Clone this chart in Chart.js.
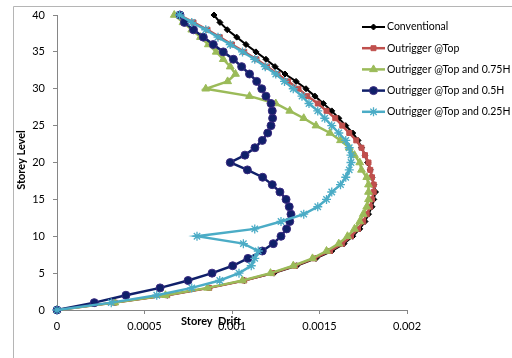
<!DOCTYPE html>
<html>
<head>
<meta charset="utf-8">
<script src="https://cdn.jsdelivr.net/npm/chart.js@4/dist/chart.umd.min.js"></script>
<style>
  html, body { margin: 0; padding: 0; background: #fff; }
  canvas { display: block; }
</style>
</head>
<body>
<main></main>
<script>
// storey levels (y) and drift per series (x)
const storeys = [0,1,2,3,4,5,6,7,8,9,10,11,12,13,14,15,16,17,18,19,20,
  21,22,23,24,25,26,27,28,29,30,31,32,33,34,35,36,37,38,39,40];

const conventional = [0,0.00033,0.00063,0.00087,0.00107,0.00124,0.00137,0.00148,0.00157,0.00164,0.00169,
  0.00173,0.00176,0.00178,0.0018,0.00181,0.00182,0.00181,0.0018,0.00179,0.001775,
  0.00176,0.00174,0.00172,0.00169,0.00165,0.00161,0.00157,0.001522,0.001474,0.001423,
  0.001366,0.001303,0.001246,0.001194,0.001137,0.00108,0.001027,0.000973,0.000931,0.000897];

const outTop = [0,0.00033,0.00063,0.00087,0.00107,0.00123,0.00136,0.00147,0.00156,0.00163,0.00168,
  0.00172,0.00175,0.00177,0.00179,0.0018,0.00181,0.00181,0.0018,0.00179,0.00178,
  0.00176,0.00174,0.00171,0.00167,0.00163,0.00159,0.00154,0.00149,0.00143,0.00138,
  0.00132,0.00126,0.0012,0.00114,0.00107,0.001,0.00093,0.00086,0.00078,0.0007];

const out075 = [0,0.00033,0.00062,0.00086,0.00106,0.00122,0.00135,0.00146,0.00154,0.00161,0.00166,
  0.0017,0.00173,0.00175,0.00177,0.00178,0.00178,0.00178,0.00177,0.00174,0.00173,
  0.0017,0.00167,0.00162,0.00156,0.00148,0.00141,0.00133,0.00125,0.0011,0.00085,
  0.000975,0.00102,0.00099,0.00095,0.00091,0.000865,0.00082,0.00077,0.00072,0.00067];

const out050 = [0,0.000213,0.000394,0.000589,0.000749,0.000886,0.001004,0.001091,0.001173,0.001236,0.00128,
  0.001312,0.00133,0.001337,0.001327,0.001309,0.001274,0.00123,0.001175,0.001088,0.00099,
  0.001074,0.001131,0.001173,0.001204,0.001223,0.001232,0.00123,0.001223,0.001194,0.00117,
  0.001141,0.0011,0.001055,0.001008,0.00095,0.000893,0.000836,0.00078,0.000728,0.000703];

const out025 = [0,0.00031,0.00057,0.00077,0.00093,0.00104,0.00111,0.00113,0.00115,0.001065,0.0008,
  0.00113,0.00128,0.00141,0.00149,0.00154,0.00157,0.00162,0.00165,0.00167,0.00168,
  0.00168,0.00167,0.00165,0.00161,0.00157,0.00153,0.00149,0.00144,0.0014,0.00135,
  0.0013,0.00125,0.00119,0.00113,0.00106,0.00099,0.00092,0.00085,0.00077,0.0007];

const seriesNames = ['Conventional','Outrigger @Top','Outrigger @Top and 0.75H',
  'Outrigger @Top and 0.5H','Outrigger @Top and 0.25H'];
const xTicks = [0, 0.0005, 0.001, 0.0015, 0.002];
const yTicks = [0, 5, 10, 15, 20, 25, 30, 35, 40];

const FONT = 'Lato, "Open Sans", sans-serif';

function pts(vals){
  return vals.map((v, i) => ({x: v, y: storeys[i]}));
}

const styles = [
  {color: '#000000', point: 'rectRot', r: 3, lw: 2, order: 5},
  {color: '#C0504D', point: 'rect', r: 3.5, lw: 2.5, order: 4},
  {color: '#9BBB59', point: 'triangle', r: 4.5, lw: 2.5, order: 3},
  {color: '#10206A', point: 'circle', r: 4, lw: 2.5, order: 2},
  {color: '#4BACC6', point: 'star', r: 4.5, lw: 2.5, order: 1}
];
const allVals = [conventional, outTop, out075, out050, out025];

const datasets = allVals.map((vals, i) => ({
  label: seriesNames[i],
  data: pts(vals),
  showLine: true,
  clip: false,
  borderColor: styles[i].color,
  backgroundColor: styles[i].color,
  borderWidth: styles[i].lw,
  pointStyle: styles[i].point,
  pointRadius: styles[i].r,
  pointBorderWidth: i == 4 ? 1.3 : 1,
  pointBorderColor: i == 3 ? '#3A2A80' : styles[i].color,
  order: styles[i].order,
  tension: 0
}));

// legend + axis titles + outer frame
const extras = {
  id: 'extras',
  afterDraw(chart){
    const ctx = chart.ctx;
    ctx.save();
    ctx.strokeStyle = '#B5B5B5';
    ctx.lineWidth = 1;
    ctx.beginPath();
    ctx.moveTo(13.5, 358);
    ctx.lineTo(13.5, 6.5);
    ctx.lineTo(512, 6.5);
    ctx.stroke();

    const lx = 362, ly = 27, gap = 21.2;
    chart.data.datasets.forEach((ds, i) => {
      const y = ly + i * gap;
      ctx.strokeStyle = ds.borderColor;
      ctx.lineWidth = ds.borderWidth;
      ctx.beginPath();
      ctx.moveTo(lx, y);
      ctx.lineTo(lx + 23, y);
      ctx.stroke();
      ctx.fillStyle = ds.backgroundColor;
      ctx.strokeStyle = ds.pointBorderColor;
      ctx.lineWidth = ds.pointBorderWidth;
      Chart.helpers.drawPoint(ctx, {pointStyle: ds.pointStyle, radius: ds.pointRadius, rotation: 0, borderWidth: ds.pointBorderWidth}, lx + 11.5, y);
      ctx.fillStyle = '#000';
      ctx.font = '10.5px ' + FONT;
      ctx.textBaseline = 'middle';
      ctx.textAlign = 'left';
      ctx.fillText(ds.label, lx + 25, y);
    });

    ctx.fillStyle = '#000';
    ctx.font = 'bold 11px ' + FONT;
    ctx.textAlign = 'center';
    ctx.textBaseline = 'middle';
    ctx.fillText('Storey  Drift', 211, 321);
    ctx.translate(21, 160);
    ctx.rotate(-Math.PI / 2);
    ctx.fillText('Storey Level', 0, 0);
    ctx.restore();
  }
};

const canvas = document.createElement('canvas');
canvas.width = 512;
canvas.height = 358;
document.body.querySelector('main').appendChild(canvas);

new Chart(canvas, {
  type: 'scatter',
  data: {datasets: datasets},
  options: {
    responsive: false,
    animation: false,
    layout: {padding: {left: 0, top: 15, right: 105, bottom: 0}},
    plugins: {legend: {display: false}, tooltip: {enabled: false}},
    scales: {
      x: {
        type: 'linear', min: 0, max: 0.002,
        afterBuildTicks: s => { s.ticks = xTicks.map(v => ({value: v})); },
        afterFit: s => { s.height = 48; },
        grid: {display: true, drawOnChartArea: false, drawTicks: true, tickLength: 4, color: '#868686'},
        border: {display: true, color: '#868686', width: 1},
        ticks: {color: '#000', padding: 6, font: {family: FONT, size: 11},
          maxRotation: 0, callback: v => String(+v.toFixed(4))}
      },
      y: {
        type: 'linear', min: 0, max: 40,
        afterBuildTicks: s => { s.ticks = yTicks.map(v => ({value: v})); },
        afterFit: s => { s.width = 57; },
        grid: {display: true, drawOnChartArea: false, drawTicks: true, tickLength: 4, color: '#868686'},
        border: {display: true, color: '#868686', width: 1},
        ticks: {color: '#000', padding: 8, font: {family: FONT, size: 11}}
      }
    }
  },
  plugins: [extras]
});
</script>
</body>
</html>
